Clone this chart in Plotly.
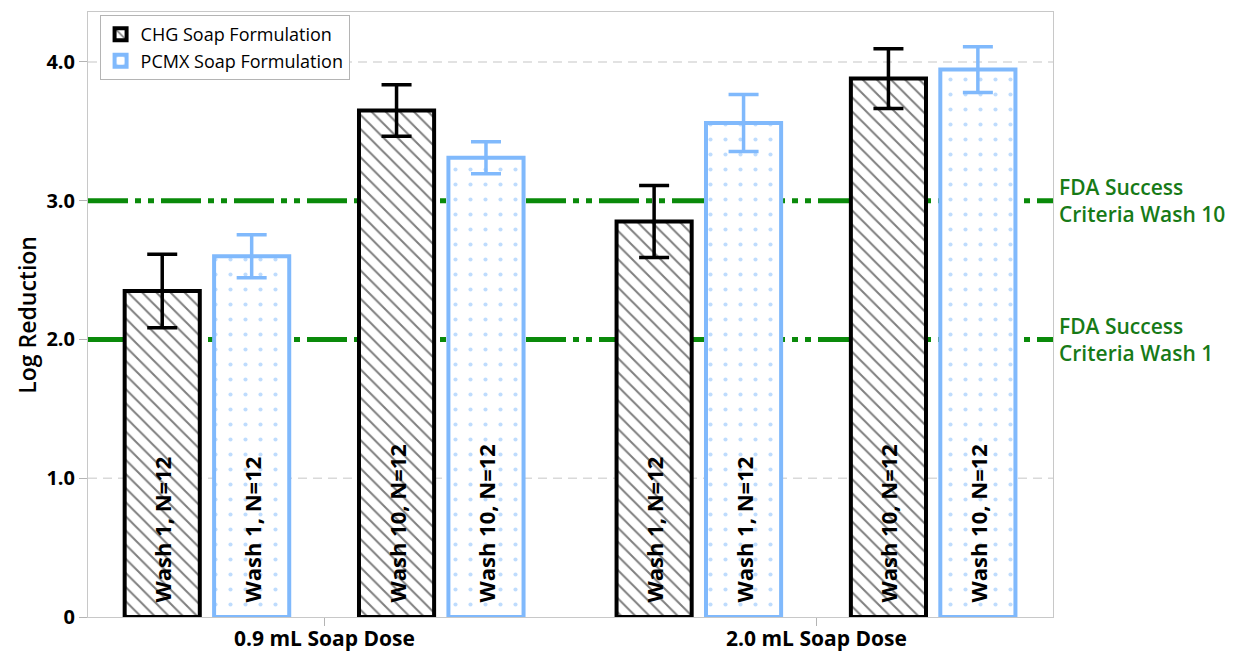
import plotly.graph_objects as go

doses = ["0.9 mL Soap Dose", "2.0 mL Soap Dose"]
washes = ["Wash 1", "Wash 10"]
formulations = ["CHG Soap Formulation", "PCMX Soap Formulation"]
n_per_bar = 12

# values ordered [dose][wash]
chg_mean = [[2.35, 3.65], [2.85, 3.88]]
chg_err = [[0.265, 0.185], [0.26, 0.215]]
pcmx_mean = [[2.60, 3.31], [3.56, 3.945]]
pcmx_err = [[0.155, 0.115], [0.205, 0.165]]

fda_levels = [3.0, 2.0]
fda_labels = ["FDA Success<br>Criteria Wash 10", "FDA Success<br>Criteria Wash 1"]

y_tickvals = [0, 1, 2, 3, 4]
y_ticktext = ["0", "1.0", "2.0", "3.0", "4.0"]

# layout slot spacing (style, not data)
GROUP_STEP = 5.5
WASH_STEP = 2.62
FORM_STEP = 1.0

FONT = "Open Sans"
BLUE = "#80b9fc"
GREEN = "#0a8a0a"
GREEN_TXT = "#177a17"

def positions(form_i):
    xs = []
    for di in range(len(doses)):
        for wi in range(len(washes)):
            xs.append(di * GROUP_STEP + wi * WASH_STEP + form_i * FORM_STEP)
    return xs

def flat(a):
    return [v for row in a for v in row]

labels = ["\u00a0\u00a0" + f"{w}, N={n_per_bar}" for d in doses for w in washes]

fig = go.Figure()

# light dashed gridlines (those under the FDA lines are hidden in the original)
for v in y_tickvals:
    if v != 0 and v not in fda_levels:
        fig.add_shape(type="line", xref="paper", x0=0, x1=1, yref="y", y0=v, y1=v,
                      line=dict(color="#d9d9d9", width=1.5, dash="9px,6px"), layer="below")

series = [
    (formulations[0], chg_mean, chg_err, "black", dict(shape="\\", fgcolor="black", bgcolor="white", size=10, solidity=0.2)),
    (formulations[1], pcmx_mean, pcmx_err, BLUE, dict(shape=".", fgcolor=BLUE, bgcolor="white", size=15, solidity=0.06)),
]

for i, (name, mean, err, col, pat) in enumerate(series):
    fig.add_trace(go.Bar(
        x=positions(i), y=flat(mean), name=name, width=0.84,
        marker=dict(color="white", line=dict(color=col, width=4), pattern=pat),
        error_y=dict(type="data", array=flat(err), color=col, thickness=3.5, width=15),
        text=labels, textposition="inside", insidetextanchor="start", textangle=-90,
        textfont=dict(family=FONT, size=22, color="black", weight=700),
        constraintext="none", cliponaxis=False,
    ))

for lvl, lab in zip(fda_levels, fda_labels):
    fig.add_shape(type="line", xref="paper", x0=0, x1=1, yref="y", y0=lvl, y1=lvl,
                  line=dict(color=GREEN, width=5, dash="40px,7px,6px,7px,6px,7px"), layer="below")
    fig.add_annotation(xref="paper", x=1.004, yref="y", y=lvl, text=lab, showarrow=False,
                       xanchor="left", yanchor="middle", align="left",
                       font=dict(family=FONT, size=21, color=GREEN_TXT, weight=600))

fig.add_annotation(xref="paper", x=-0.064, yref="paper", y=0.5, text="Log Reduction",
                   showarrow=False, textangle=-90, xanchor="center", yanchor="middle",
                   font=dict(family=FONT, size=23, color="black", weight=600))

group_centers = [(positions(0)[2 * d] + positions(1)[2 * d + 1]) / 2 for d in range(len(doses))]

for gx, dose in zip(group_centers, doses):
    fig.add_annotation(xref="x", x=gx, yref="paper", y=0, yshift=-21, text=dose,
                       showarrow=False, xanchor="center", yanchor="middle",
                       font=dict(family=FONT, size=21, color="black", weight=700))

fig.update_layout(
    width=1250, height=652,
    margin=dict(l=80, r=205, t=4, b=43),
    plot_bgcolor="white", paper_bgcolor="white",
    barmode="overlay",
    showlegend=True,
    legend=dict(x=0.012, y=0.995, xanchor="left", yanchor="top",
                bordercolor="#b4b4b4", borderwidth=1, bgcolor="white",
                font=dict(family=FONT, size=18, color="black"),
                tracegroupgap=0, itemwidth=30),
    font=dict(family=FONT, color="black"),
)

fig.update_xaxes(
    range=[-0.83, 9.96], tickvals=group_centers, ticktext=["" for _ in doses],
    ticks="outside", ticklen=8, tickcolor="#b4b4b4", automargin=False,
    showgrid=False, zeroline=False, showline=True, linecolor="#c8c8c8", linewidth=1, mirror=True,
)
fig.update_yaxes(
    range=[0, 4.36], tickvals=y_tickvals, ticktext=y_ticktext,
    ticks="outside", ticklen=8, tickcolor="#b4b4b4", automargin=False,
    tickfont=dict(family=FONT, size=20, color="black", weight=700),
    showgrid=False, zeroline=False, showline=True, linecolor="#c8c8c8", linewidth=1, mirror=True,
)

fig.write_html("out.html")
